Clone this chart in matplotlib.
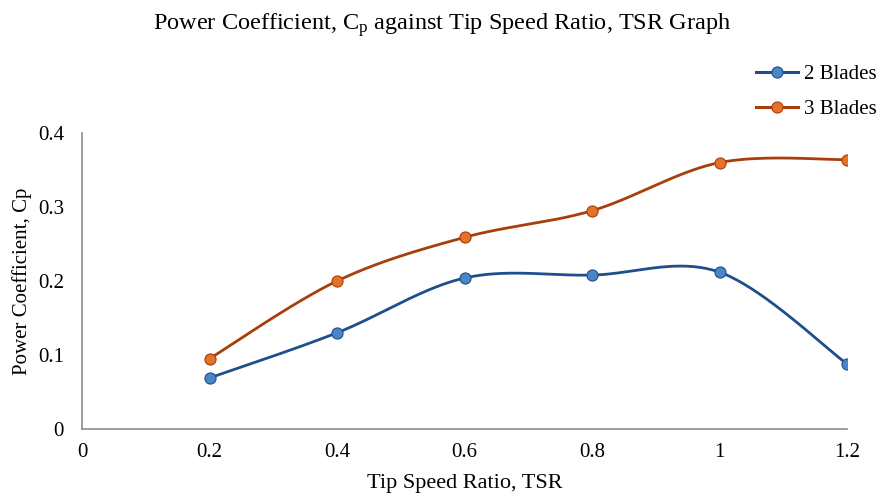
#!/usr/bin/env python3
"""Power coefficient vs tip speed ratio, smoothed Excel-style lines."""

import matplotlib

matplotlib.use("Agg")
import matplotlib.pyplot as plt  # noqa: E402
import numpy as np  # noqa: E402

TSR = [0.2, 0.4, 0.6, 0.8, 1.0, 1.2]
CP_2_BLADES = [0.069, 0.130, 0.204, 0.208, 0.212, 0.088]
CP_3_BLADES = [0.095, 0.200, 0.259, 0.295, 0.360, 0.364]
X_TICKS = [0, 0.2, 0.4, 0.6, 0.8, 1, 1.2]
X_TICK_LABELS = ["0", "0.2", "0.4", "0.6", "0.8", "1", "1.2"]
Y_TICKS = [0, 0.1, 0.2, 0.3, 0.4]
Y_TICK_LABELS = ["0", "0.1", "0.2", "0.3", "0.4"]

plt.rcParams["font.family"] = ["Liberation Serif", "DejaVu Serif"]
plt.rcParams["mathtext.fontset"] = "custom"
plt.rcParams["mathtext.rm"] = "Liberation Serif"
plt.rcParams["mathtext.it"] = "Liberation Serif:italic"


def _smooth(xs, ys, n=40):
    # Excel-like smoothing: Bezier segments with Catmull-Rom control points
    xs = np.asarray(xs, float)
    ys = np.asarray(ys, float)
    px = np.concatenate([[xs[0]], xs, [xs[-1]]])
    py = np.concatenate([[ys[0]], ys, [ys[-1]]])
    t = np.linspace(0, 1, n)
    out_x, out_y = [], []
    for i in range(1, len(px) - 2):
        p0 = np.array([px[i], py[i]])
        p3 = np.array([px[i + 1], py[i + 1]])
        c1 = p0 + (np.array([px[i + 1], py[i + 1]]) - np.array([px[i - 1], py[i - 1]])) / 6
        c2 = p3 - (np.array([px[i + 2], py[i + 2]]) - np.array([px[i], py[i]])) / 6
        pts = (((1 - t) ** 3)[:, None] * p0 + (3 * (1 - t) ** 2 * t)[:, None] * c1
               + (3 * (1 - t) * t ** 2)[:, None] * c2 + (t ** 3)[:, None] * p3)
        out_x.extend(pts[:, 0])
        out_y.extend(pts[:, 1])
    return out_x, out_y


fig = plt.figure(figsize=(8.77, 4.95), dpi=100)
ax = fig.add_axes([0.0935, 0.1333, 0.8723, 0.598])

series = [
    ("2 Blades", CP_2_BLADES, "#1F4E8C", "#4A86C5"),
    ("3 Blades", CP_3_BLADES, "#A83E0C", "#E5722A"),
]
handles = []
for label, values, line_color, marker_color in series:
    sx, sy = _smooth(TSR, values)
    ax.plot(sx, sy, color=line_color, linewidth=2.0, zorder=2)
    ax.plot(TSR, values, linestyle="none", marker="o", markersize=8,
            markerfacecolor=marker_color, markeredgecolor=line_color,
            markeredgewidth=0.8, zorder=3)
    handle, = ax.plot([], [], color=line_color, linewidth=2.2, marker="o",
                      markersize=8, markerfacecolor=marker_color,
                      markeredgecolor=line_color, markeredgewidth=0.8)
    handles.append((handle, label))

ax.set_xlim(0, 1.2)
ax.set_ylim(0, 0.4)
ax.set_xticks(X_TICKS)
ax.set_xticklabels(X_TICK_LABELS)
ax.set_yticks(Y_TICKS)
ax.set_yticklabels(Y_TICK_LABELS)
ax.tick_params(length=0, labelsize=15, colors="#000000")
ax.tick_params(axis="x", pad=10)
ax.tick_params(axis="y", pad=13)
for side in ("top", "right"):
    ax.spines[side].set_visible(False)
for side in ("left", "bottom"):
    ax.spines[side].set_color("#8C8C8C")
    ax.spines[side].set_linewidth(1.2)

ax.set_xlabel("Tip Speed Ratio, TSR", fontsize=16, labelpad=9)
ax.set_ylabel("Power Coefficient, Cp", fontsize=15, labelpad=4)

fig.text(0.504, 0.949, "Power Coefficient, C$_\\mathrm{p}$ against Tip Speed Ratio, TSR Graph",
         ha="center", va="center", fontsize=17.5)

fig.legend([h for h, _ in handles], [lab for _, lab in handles],
           loc="upper left", bbox_to_anchor=(0.862, 0.87), frameon=False,
           borderpad=0, borderaxespad=0,
           fontsize=15, handlelength=2.0, handletextpad=0.3, labelspacing=0.75)

fig.savefig("out.png", dpi=100)
